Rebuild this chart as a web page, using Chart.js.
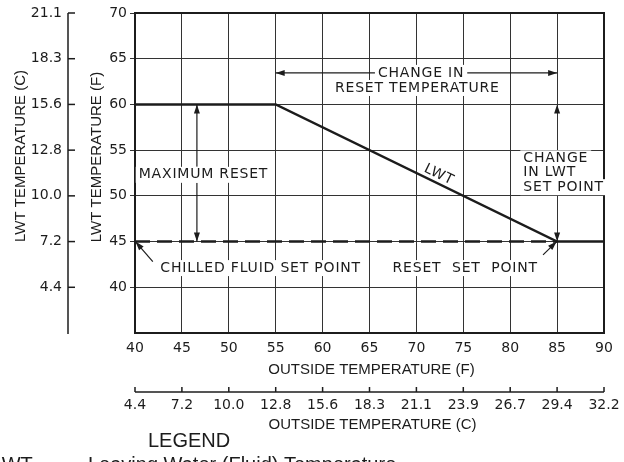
<!DOCTYPE html>
<html>
<head>
<meta charset="utf-8">
<script src="https://cdn.jsdelivr.net/npm/chart.js@4.4.1/dist/chart.umd.min.js"></script>
<style>
  html, body { margin: 0; padding: 0; background: #fff; }
  canvas { display: block; }
</style>
</head>
<body>
<canvas id="chart" width="624" height="462"></canvas>
<script>
// outside temperature axis (F) and matching C labels
const xTicksF = [40, 45, 50, 55, 60, 65, 70, 75, 80, 85, 90];
const xTicksC = ['4.4', '7.2', '10.0', '12.8', '15.6', '18.3', '21.1', '23.9', '26.7', '29.4', '32.2'];
// LWT axis (F) and matching C labels
const yTicksF = [40, 45, 50, 55, 60, 65, 70];
const yTicksC = ['4.4', '7.2', '10.0', '12.8', '15.6', '18.3', '21.1'];

// LWT reset line
const outsideTemp = [40, 55, 85, 90];
const lwtTemp = [60, 60, 45, 45];
// chilled fluid set point (dashed)
const setPointOutside = [40, 85];
const setPointLwt = [45, 45];

const FONT = '"DejaVu Sans", sans-serif';
const TITLE_FONT = '15px "Liberation Sans", Arial, sans-serif';
const INK = '#1c1c1c';

function arrowHead(ctx, x1, y1, x2, y2) {
  // filled head with tip at x2,y2
  const a = Math.atan2(y2 - y1, x2 - x1);
  const len = 9, w = 3;
  ctx.beginPath();
  ctx.moveTo(x2, y2);
  ctx.lineTo(x2 - len * Math.cos(a) + w * Math.sin(a), y2 - len * Math.sin(a) - w * Math.cos(a));
  ctx.lineTo(x2 - len * Math.cos(a) - w * Math.sin(a), y2 - len * Math.sin(a) + w * Math.cos(a));
  ctx.closePath();
  ctx.fill();
}

function line(ctx, x1, y1, x2, y2) {
  ctx.beginPath();
  ctx.moveTo(x1, y1);
  ctx.lineTo(x2, y2);
  ctx.stroke();
}

function boxText(ctx, text, x, y, align) {
  ctx.textAlign = align;
  ctx.textBaseline = 'middle';
  const w = ctx.measureText(text).width;
  let left = x;
  if (align === 'center') left = x - w / 2;
  if (align === 'right') left = x - w;
  ctx.fillStyle = '#fff';
  ctx.fillRect(left - 3, y - 8, w + 6, 16);
  ctx.fillStyle = INK;
  ctx.fillText(text, x, y);
}

const overlay = {
  id: 'overlay',
  afterDraw(chart) {
    const { ctx, chartArea: a, scales: { x, y } } = chart;
    const P = (xv, yv) => [x.getPixelForValue(xv), y.getPixelForValue(yv)];
    ctx.save();
    ctx.strokeStyle = INK;
    ctx.fillStyle = INK;

    // frame
    ctx.lineWidth = 2;
    ctx.strokeRect(a.left, a.top, a.right - a.left, a.bottom - a.top);

    ctx.textBaseline = 'middle';
    ctx.textAlign = 'center';
    ctx.font = TITLE_FONT;
    ctx.fillText('OUTSIDE TEMPERATURE (F)', (a.left + a.right) / 2 + 2, 370);

    // outside temperature (C) axis
    const yc = 392;
    ctx.lineWidth = 1.5;
    line(ctx, x.getPixelForValue(40), yc, x.getPixelForValue(90), yc);
    ctx.font = '14px ' + FONT;
    xTicksF.forEach((v, i) => {
      const px = x.getPixelForValue(v);
      line(ctx, px, yc, px, yc - 5);
      ctx.fillText(xTicksC[i], px, yc + 13);
    });
    ctx.font = TITLE_FONT;
    ctx.fillText('OUTSIDE TEMPERATURE (C)', (a.left + a.right) / 2 + 3, 425);

    // LWT (C) axis on the far left
    const xc = 68;
    line(ctx, xc, y.getPixelForValue(70), xc, a.bottom + 1);
    ctx.font = '14px ' + FONT;
    ctx.textAlign = 'right';
    yTicksF.forEach((v, i) => {
      const py = y.getPixelForValue(v);
      line(ctx, xc, py, xc + 7, py);
      ctx.fillText(yTicksC[i], 62, py);
    });

    // rotated axis titles
    ctx.font = TITLE_FONT;
    ctx.textAlign = 'center';
    ctx.save();
    ctx.translate(21, 156);
    ctx.rotate(-Math.PI / 2);
    ctx.fillText('LWT TEMPERATURE (C)', 0, 0);
    ctx.restore();
    ctx.save();
    ctx.translate(97, 157);
    ctx.rotate(-Math.PI / 2);
    ctx.fillText('LWT TEMPERATURE (F)', 0, 0);
    ctx.restore();

    // annotations
    ctx.lineWidth = 1.2;
    ctx.font = '14px ' + FONT;
    ctx.letterSpacing = '0.8px';

    // change in reset temperature
    const [l1, ay] = P(55, 63.45);
    const [r1] = P(85, 63.45);
    line(ctx, l1, ay, r1, ay);
    arrowHead(ctx, l1 + 10, ay, l1, ay);
    arrowHead(ctx, r1 - 10, ay, r1, ay);
    let p = P(70.5, 63.45);
    boxText(ctx, 'CHANGE IN', p[0], p[1], 'center');
    p = P(70.1, 61.8);
    boxText(ctx, 'RESET TEMPERATURE', p[0], p[1], 'center');

    // maximum reset
    const [mx, m60] = P(46.6, 60);
    const [, m45] = P(46.6, 45);
    const [tmx, tmy] = P(47.3, 52.3);
    line(ctx, mx, m60, mx, tmy - 8);
    arrowHead(ctx, mx, m60 + 10, mx, m60);
    line(ctx, mx, tmy + 8, mx, m45);
    arrowHead(ctx, mx, m45 - 10, mx, m45);
    boxText(ctx, 'MAXIMUM RESET', tmx, tmy, 'center');

    // change in LWT set point
    const [cx85, c60] = P(85, 60);
    const [, c45] = P(85, 45);
    arrowHead(ctx, cx85, c60 + 10, cx85, c60);
    arrowHead(ctx, cx85, c45 - 10, cx85, c45);
    p = P(81.4, 54.1);
    boxText(ctx, 'CHANGE', p[0], p[1], 'left');
    p = P(81.4, 52.55);
    boxText(ctx, 'IN LWT', p[0], p[1], 'left');
    p = P(81.4, 50.95);
    boxText(ctx, 'SET POINT', p[0], p[1], 'left');

    // chilled fluid set point
    let s = P(41.9, 42.8), t = P(40.05, 45);
    line(ctx, s[0], s[1], t[0], t[1]);
    arrowHead(ctx, s[0], s[1], t[0], t[1]);
    p = P(42.7, 42.1);
    boxText(ctx, 'CHILLED FLUID SET POINT', p[0], p[1], 'left');

    // reset set point
    s = P(83.5, 43.55); t = P(84.95, 45);
    line(ctx, s[0], s[1], t[0], t[1]);
    arrowHead(ctx, s[0], s[1], t[0], t[1]);
    p = P(75.2, 42.1);
    boxText(ctx, 'RESET  SET  POINT', p[0], p[1], 'center');

    // LWT label along the sloped line
    const [sx1, sy1] = P(55, 60);
    const [sx2, sy2] = P(85, 45);
    const ang = Math.atan2(sy2 - sy1, sx2 - sx1);
    p = P(72.4, 52.3);
    ctx.save();
    ctx.translate(p[0], p[1]);
    ctx.rotate(ang);
    ctx.textAlign = 'center';
    ctx.fillText('LWT', 0, 0);
    ctx.restore();

    // legend
    ctx.letterSpacing = '0px';
    ctx.textBaseline = 'alphabetic';
    ctx.textAlign = 'left';
    ctx.font = '20px "Liberation Sans", Arial, sans-serif';
    ctx.fillText('LEGEND', 148, 447);
    ctx.fillText('LWT', -8, 471);
    ctx.fillText('\u2014', 46, 471);
    ctx.fillText('Leaving Water (Fluid) Temperature', 88, 471);

    ctx.restore();
  }
};

new Chart(document.getElementById('chart'), {
  type: 'line',
  data: {
    datasets: [
      {
        label: 'LWT',
        data: outsideTemp.map((v, i) => ({ x: v, y: lwtTemp[i] })),
        borderColor: INK,
        borderWidth: 2.5,
        pointRadius: 0,
        tension: 0
      },
      {
        label: 'Chilled fluid set point',
        data: setPointOutside.map((v, i) => ({ x: v, y: setPointLwt[i] })),
        borderColor: INK,
        borderWidth: 2.5,
        borderDash: [15, 7],
        pointRadius: 0
      }
    ]
  },
  options: {
    responsive: false,
    animation: false,
    devicePixelRatio: 1,
    layout: { padding: { left: 0, top: 13, right: 20, bottom: 0 } },
    plugins: { legend: { display: false }, tooltip: { enabled: false } },
    scales: {
      x: {
        type: 'linear',
        min: 40,
        max: 90,
        afterBuildTicks: s => { s.ticks = xTicksF.map(v => ({ value: v })); },
        ticks: { font: { family: FONT, size: 14 }, color: INK, padding: 7, maxRotation: 0 },
        grid: { color: '#333', lineWidth: 1, drawTicks: false },
        border: { color: INK, width: 2 },
        afterFit: s => { s.height = 129; }
      },
      y: {
        type: 'linear',
        min: 35,
        max: 70,
        afterBuildTicks: s => { s.ticks = yTicksF.map(v => ({ value: v })); },
        ticks: { font: { family: FONT, size: 14 }, color: INK, padding: 3 },
        grid: { color: '#333', lineWidth: 1, tickLength: 5 },
        border: { color: INK, width: 2 },
        afterFit: s => { s.width = 135; }
      }
    }
  },
  plugins: [overlay]
});
</script>
</body>
</html>
